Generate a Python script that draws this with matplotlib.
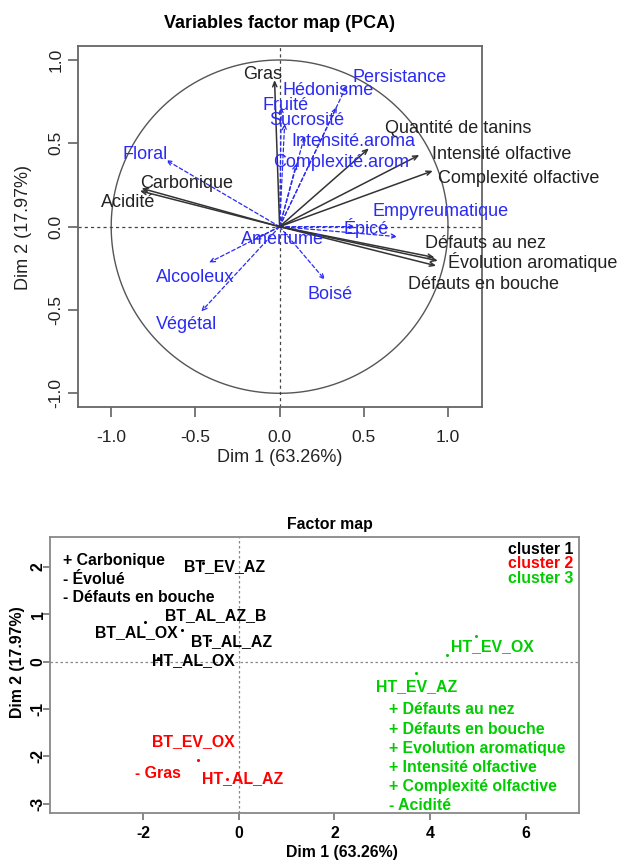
import matplotlib
matplotlib.use("Agg")
import matplotlib.pyplot as plt
import numpy as np

plt.rcParams['font.family'] = ['Liberation Sans', 'DejaVu Sans']

# ---------------- Data: variables factor map ----------------
active_names = ["Gras", "Carbonique", "Acidité", "Quantité de tanins",
                "Intensité olfactive", "Complexité olfactive", "Défauts au nez",
                "Évolution aromatique", "Défauts en bouche"]
active_x = [-0.03, -0.82, -0.83, 0.53, 0.83, 0.91, 0.92, 0.94, 0.93]
active_y = [0.88, 0.23, 0.215, 0.47, 0.43, 0.335, -0.185, -0.205, -0.235]
active_lab_x = [-0.10, -0.55, -0.90, 1.06, 1.32, 1.42, 1.22, 1.50, 1.21]
active_lab_y = [0.915, 0.256, 0.144, 0.59, 0.43, 0.29, -0.104, -0.21, -0.35]

sup_names = ["Persistance", "Hédonisme", "Fruité", "Sucrosité", "Intensité.aroma",
             "Complexité.arom", "Floral", "Empyreumatique", "Épicé", "Amertume",
             "Alcooleux", "Végétal", "Boisé"]
sup_x = [0.40, 0.34, 0.01, 0.03, 0.15, 0.10, -0.675, 0.70, 0.45, -0.15, -0.42, -0.466, 0.27]
sup_y = [0.85, 0.72, 0.72, 0.62, 0.55, 0.38, 0.40, -0.06, 0.0, -0.08, -0.216, -0.51, -0.32]
sup_lab_x = [0.71, 0.286, 0.036, 0.16, 0.436, 0.367, -0.80, 0.957, 0.516, 0.02, -0.50, -0.55, 0.30]
sup_lab_y = [0.896, 0.816, 0.726, 0.634, 0.51, 0.384, 0.434, 0.09, -0.01, -0.08, -0.306, -0.59, -0.405]

var_ticks = [-1.0, -0.5, 0.0, 0.5, 1.0]

# ---------------- Data: individuals factor map ----------------
ind_names = ["BT_EV_AZ", "BT_AL_AZ_B", "BT_AL_OX", "BT_AL_AZ", "HT_AL_OX",
             "BT_EV_OX", "HT_AL_AZ", "HT_EV_OX", "HT_EV_AZ"]
ind_cluster = [1, 1, 1, 1, 1, 2, 2, 3, 3]
ind_lab_x = [-0.29, -0.48, -2.14, -0.15, -0.96, -0.95, 0.08, 5.31, 3.71]
ind_lab_y = [2.02, 0.98, 0.61, 0.42, 0.03, -1.68, -2.47, 0.33, -0.53]
pt_x = [-0.75, -1.97, -1.18, -0.60, -1.69, -0.85, -0.24, 4.96, 4.35, 3.71]
pt_y = [2.08, 0.84, 0.67, 0.45, 0.07, -2.08, -2.48, 0.55, 0.14, -0.25]
pt_cluster = [1, 1, 1, 1, 1, 2, 2, 3, 3, 3]

cluster_labels = ["cluster 1", "cluster 2", "cluster 3"]
cluster_colors = {1: "black", 2: "#ff0000", 3: "#00cd00"}

desc1 = ["+ Carbonique", "- Évolué", "- Défauts en bouche"]
desc2 = ["- Gras"]
desc3 = ["+ Défauts au nez", "+ Défauts en bouche", "+ Evolution aromatique",
         "+ Intensité olfactive", "+ Complexité olfactive", "- Acidité"]

ind_xticks = [-2, 0, 2, 4, 6]
ind_yticks = [-3, -2, -1, 0, 1, 2]

# ---------------- Figure ----------------
W, H = 619, 861
fig = plt.figure(figsize=(W / 100, H / 100), dpi=100)

def fx(px):
    return px / W

def fy(py):
    return 1 - py / H

# ---------- Top panel ----------
L, R_, T, B = 77.5, 481.7, 46, 407.3
ax = fig.add_axes([fx(L), fy(B), fx(R_) - fx(L), fy(T) - fy(B)])
ax.set_xlim(-1.2, 1.2)
ax.set_ylim(-1.084, 1.084)
for s in ax.spines.values():
    s.set_color('#666666')
    s.set_linewidth(1.3)

th = np.linspace(0, 2 * np.pi, 400)
ax.plot(np.cos(th), np.sin(th), color='#555555', lw=1.0)
ax.axhline(0, color='#444444', lw=0.9, ls=(0, (2.5, 2.5)))
ax.axvline(0, color='#444444', lw=0.9, ls=(0, (2.5, 2.5)))

blue = '#2a2af5'
for x, y in zip(sup_x, sup_y):
    ax.annotate('', xy=(x, y), xytext=(0, 0),
                arrowprops=dict(arrowstyle='->,head_length=0.35,head_width=0.15',
                                color=blue, lw=0.9, ls=(0, (3, 2)),
                                shrinkA=0, shrinkB=0))
for x, y in zip(active_x, active_y):
    ax.annotate('', xy=(x, y), xytext=(0, 0),
                arrowprops=dict(arrowstyle='->,head_length=0.35,head_width=0.15',
                                color='#333333', lw=1.1,
                                shrinkA=0, shrinkB=0))
for n, x, y in zip(sup_names, sup_lab_x, sup_lab_y):
    ax.text(x, y, n, color=blue, fontsize=13, ha='center', va='center', clip_on=False)
for n, x, y in zip(active_names, active_lab_x, active_lab_y):
    ax.text(x, y, n, color='#222222', fontsize=13, ha='center', va='center', clip_on=False)

ax.set_xticks(var_ticks)
ax.set_xticklabels(["%.1f" % v for v in var_ticks])
ax.set_yticks(var_ticks)
ax.set_yticklabels(["%.1f" % v for v in var_ticks], rotation=90, va='center')
ax.tick_params(axis='both', direction='out', length=7, width=1.1, color='#555555',
               labelsize=12.5, labelcolor='#222222')
ax.tick_params(axis='x', pad=9)
ax.tick_params(axis='y', pad=3)

fig.text(fx(280), fy(23), "Variables factor map (PCA)", fontsize=13, fontweight='bold',
         ha='center', va='center')
fig.text(fx(280), fy(458), "Dim 1 (63.26%)", fontsize=13, ha='center', va='center',
         color='#222222')
fig.text(fx(24), fy(228), "Dim 2 (17.97%)", fontsize=13, ha='center', va='center',
         rotation=90, color='#222222')

# ---------- Bottom panel ----------
L2, R2, T2, B2 = 50, 579.3, 537.3, 813
ax2 = fig.add_axes([fx(L2), fy(B2), fx(R2) - fx(L2), fy(T2) - fy(B2)])
ax2.set_xlim(-3.95, 7.12)
ax2.set_ylim(-3.20, 2.63)
for s in ax2.spines.values():
    s.set_color('#888888')
    s.set_linewidth(1.3)
ax2.axhline(0, color='#888888', lw=0.9, ls=(0, (2, 2)))
ax2.axvline(0, color='#888888', lw=0.9, ls=(0, (2, 2)))

for x, y, c in zip(pt_x, pt_y, pt_cluster):
    ax2.plot(x, y, 'o', ms=2.2, color=cluster_colors[c], mec='none')
bfs = 11.4
for n, x, y, c in zip(ind_names, ind_lab_x, ind_lab_y, ind_cluster):
    ax2.text(x, y, n, color=cluster_colors[c], fontsize=bfs, fontweight='bold',
             ha='center', va='center')

# description blocks
for i, t in enumerate(desc1):
    fig.text(fx(62.7), fy(560 + 19 * i), t, fontsize=bfs, fontweight='bold',
             ha='left', va='center', color='black')
for i, t in enumerate(desc3):
    fig.text(fx(388.5), fy(710 + 19.1 * i), t, fontsize=bfs, fontweight='bold',
             ha='left', va='center', color=cluster_colors[3])
for t in desc2:
    fig.text(fx(158.3), fy(774), t, fontsize=bfs, fontweight='bold',
             ha='center', va='center', color=cluster_colors[2])

leg_y = [549, 563.5, 578.3]
for t, yy, c in zip(cluster_labels, leg_y, [1, 2, 3]):
    fig.text(fx(573.3), fy(yy), t, fontsize=bfs, fontweight='bold', ha='right',
             va='center', color=cluster_colors[c])

ax2.set_xticks(ind_xticks)
ax2.set_xticklabels([str(v) for v in ind_xticks], fontweight='bold')
ax2.set_yticks(ind_yticks)
ax2.set_yticklabels([str(v) for v in ind_yticks], rotation=90, va='center',
                    fontweight='bold')
ax2.tick_params(axis='both', direction='out', length=5, width=1.1, color='#666666',
                labelsize=bfs)
ax2.tick_params(axis='x', pad=4)
ax2.tick_params(axis='y', pad=-2)

fig.text(fx(330), fy(525), "Factor map", fontsize=bfs, fontweight='bold',
         ha='center', va='center')
fig.text(fx(342), fy(852), "Dim 1 (63.26%)", fontsize=bfs, fontweight='bold',
         ha='center', va='center')
fig.text(fx(18), fy(662), "Dim 2 (17.97%)", fontsize=bfs, fontweight='bold',
         ha='center', va='center', rotation=90)

fig.savefig("out.png", dpi=100)
